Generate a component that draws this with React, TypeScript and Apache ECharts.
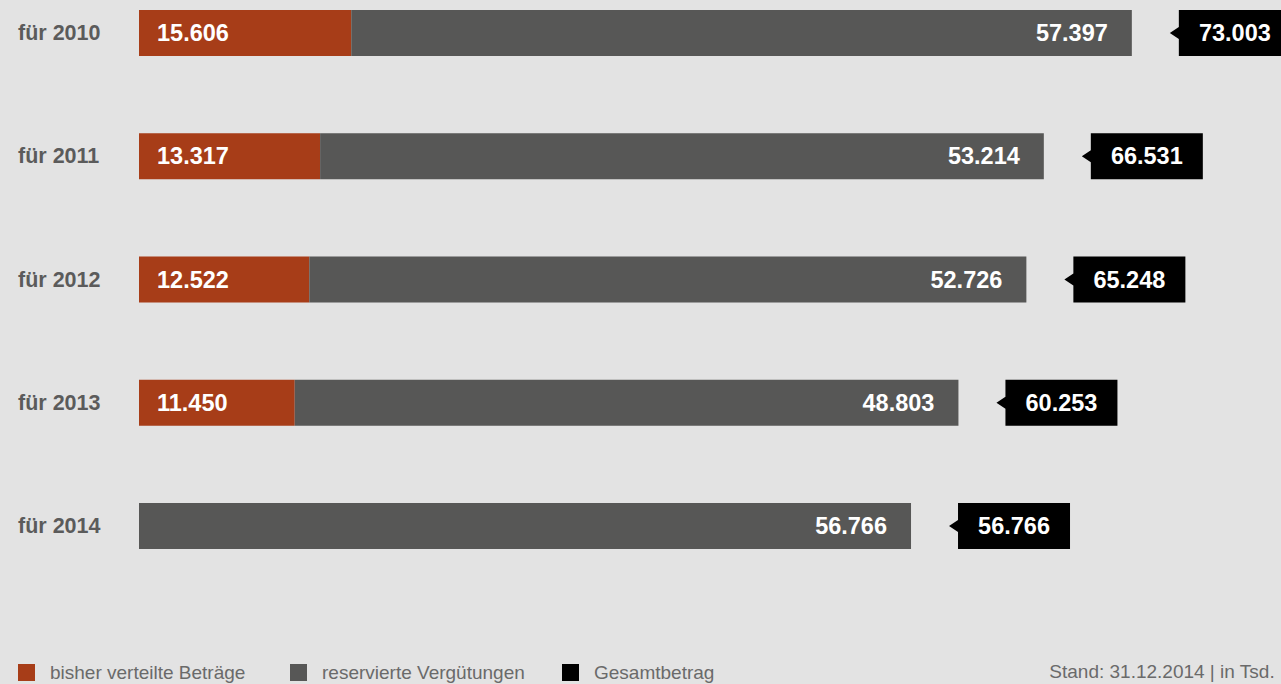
import React, { useEffect, useRef } from "react";
import * as echarts from "echarts";

const categories = ["für 2010", "für 2011", "für 2012", "für 2013", "für 2014"];
const verteilt: (number | null)[] = [15606, 13317, 12522, 11450, null];
const reserviert = [57397, 53214, 52726, 48803, 56766];
const gesamt = [73003, 66531, 65248, 60253, 56766];
const seriesNames = ["bisher verteilte Beträge", "reservierte Vergütungen", "Gesamtbetrag"];
const footnote = "Stand: 31.12.2014 | in Tsd.";

const COLORS = ["#a73d18", "#575756", "#000000"];
const FONT = "'Liberation Sans', Arial, Helvetica, sans-serif";
const VAL_SIZE = 23.5;

const fmt = (v: number) => String(v).replace(/\B(?=(\d{3})+(?!\d))/g, ".");

export default function App() {
  const ref = useRef<HTMLDivElement>(null);
  useEffect(() => {
    if (!ref.current) return;
    const chart = echarts.init(ref.current, null, { renderer: "svg" });
    const legendLeft = [18, 290, 562];
    const option: any = {
      animation: false,
      backgroundColor: "#e3e3e3",
      color: COLORS,
      textStyle: { fontFamily: FONT },
      grid: { left: 139, width: 1088, top: 33, height: 493, containLabel: false },
      xAxis: {
        type: "value",
        min: 0,
        max: 80000,
        show: false,
      },
      yAxis: {
        type: "category",
        data: categories,
        inverse: true,
        boundaryGap: false,
        axisLine: { show: false },
        axisTick: { show: false },
        splitLine: { show: false },
        axisLabel: {
          align: "left",
          margin: 121,
          color: "#5b5b5b",
          fontWeight: "bold",
          fontSize: 21.5,
          fontFamily: FONT,
        },
      },
      legend: seriesNames.map((n, i) => ({
        data: [n],
        left: legendLeft[i],
        top: 663,
        padding: 0,
        itemWidth: 17,
        itemHeight: 17,
        icon: "rect",
        selectedMode: false,
        textStyle: {
          color: "#6a6a6a",
          fontSize: 19,
          fontFamily: FONT,
          padding: [0, 0, 0, 10],
        },
      })),
      graphic: [
        {
          type: "text",
          right: 6,
          top: 662,
          style: {
            text: footnote,
            fill: "#6a6a6a",
            fontSize: 19,
            fontFamily: FONT,
          },
        },
      ],
      series: [
        {
          name: seriesNames[0],
          type: "bar",
          stack: "a",
          barWidth: 46,
          data: verteilt.map((v) => (v == null ? "-" : v)),
          itemStyle: { color: COLORS[0] },
          label: {
            show: true,
            position: "insideLeft",
            distance: 18,
            color: "#fff",
            fontWeight: "bold",
            fontSize: VAL_SIZE,
            fontFamily: FONT,
            formatter: (p: any) => fmt(p.value),
          },
        },
        {
          name: seriesNames[1],
          type: "bar",
          stack: "a",
          barWidth: 46,
          data: reserviert,
          itemStyle: { color: COLORS[1] },
          label: {
            show: true,
            position: "insideRight",
            distance: 24,
            color: "#fff",
            fontWeight: "bold",
            fontSize: VAL_SIZE,
            fontFamily: FONT,
            formatter: (p: any) => fmt(p.value),
          },
        },
        {
          name: seriesNames[2],
          type: "custom",
          itemStyle: { color: COLORS[2] },
          data: gesamt.map((v, i) => [v, i]),
          encode: { x: 0, y: 1 },
          renderItem: (params: any, api: any) => {
            const v = api.value(0);
            const pt = api.coord([v, api.value(1)]);
            const tip = pt[0] + 38;
            const bx = pt[0] + 47;
            const w = 112;
            const cy = pt[1];
            const hh = 23;
            return {
              type: "group",
              children: [
                {
                  type: "polygon",
                  shape: {
                    points: [
                      [tip, cy],
                      [bx, cy - 6],
                      [bx, cy - hh],
                      [bx + w, cy - hh],
                      [bx + w, cy + hh],
                      [bx, cy + hh],
                      [bx, cy + 6],
                    ],
                  },
                  style: { fill: COLORS[2] },
                },
                {
                  type: "text",
                  x: bx + w / 2,
                  y: cy,
                  style: {
                    text: fmt(v),
                    fill: "#fff",
                    fontSize: VAL_SIZE,
                    fontWeight: "bold",
                    fontFamily: FONT,
                    align: "center",
                    verticalAlign: "middle",
                  },
                },
              ],
            };
          },
        },
      ],
    };
    chart.setOption(option);
    return () => chart.dispose();
  }, []);
  return (
    <div
      ref={ref}
      style={{ position: "fixed", left: 0, top: 0, width: 1281, height: 684 }}
    />
  );
}
